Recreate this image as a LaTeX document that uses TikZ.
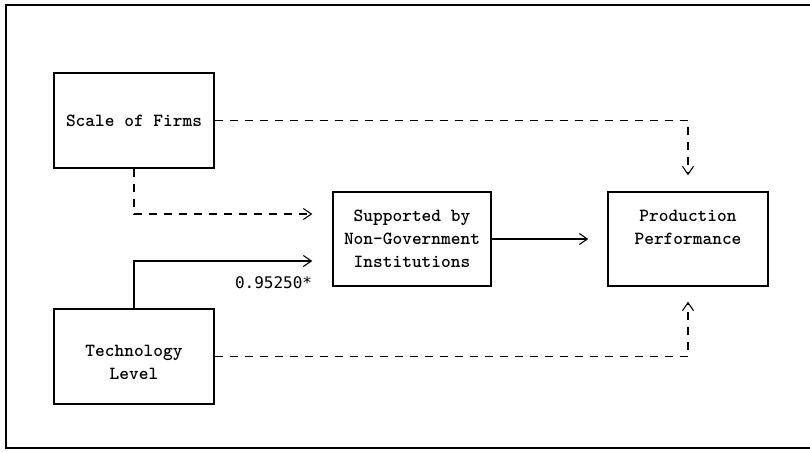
\documentclass[tikz,border=0pt]{standalone}
\usepackage{fontspec}
\newfontfamily\numfont{DejaVu Sans Mono}
\usetikzlibrary{arrows.meta}
\tikzset{
  box/.style={draw, line width=1.4pt, minimum width=160pt, minimum height=95pt,
    inner sep=0pt, align=center, font=\ttfamily\bfseries\fontsize{18.5}{23}\selectfont},
  link/.style={line width=1.1pt, -{Straight Barb[length=8pt,width=11pt,line width=1.1pt]}},
  dep/.style={link, dash pattern=on 8pt off 7pt},
  coef/.style={font=\numfont\fontsize{16}{19}\selectfont, inner sep=0pt},
}
\begin{document}
\begin{tikzpicture}[x=1pt,y=-1pt]
    % Marco
    \useasboundingbox (0,0) rectangle (810,451);
    \draw[line width=1.6pt] (810,5) -- (6,5) -- (6,448) -- (810,448);

    % Cajas
    \node[box] (scale) at (134,120.5) {Scale of Firms};
    \node[box] (tech) at (134,356.5) {\mbox{}\\Technology\\Level};
    \node[box, minimum width=158pt, minimum height=94pt] (ngo) at (412,239)
        {Supported by\\Non-Government\\Institutions};
    \node[box, minimum height=94pt] (prod) at (688,239)
        {Production\\Performance\\\mbox{}};

    % Puntos de llegada a la caja central
    \coordinate (ngo-a) at ([xshift=-20pt,yshift=25pt]ngo.west);
    \coordinate (ngo-b) at ([xshift=-20pt,yshift=-22pt]ngo.west);

    % Flechas
    \draw[dep, shorten >=16pt] (scale) -| (prod);
    \draw[dep, shorten >=15pt] (tech) -| (prod);
    \draw[dep] (scale.south) |- (ngo-a);
    \draw[link] (tech.north) |- (ngo-b);
    \draw[link, shorten >=19pt] (ngo.east) -- (prod.west);

    % Coeficiente
    \node[coef, anchor=east] (beta) at ([yshift=-22pt]ngo-b) {0.95250*};
\end{tikzpicture}
\end{document}
